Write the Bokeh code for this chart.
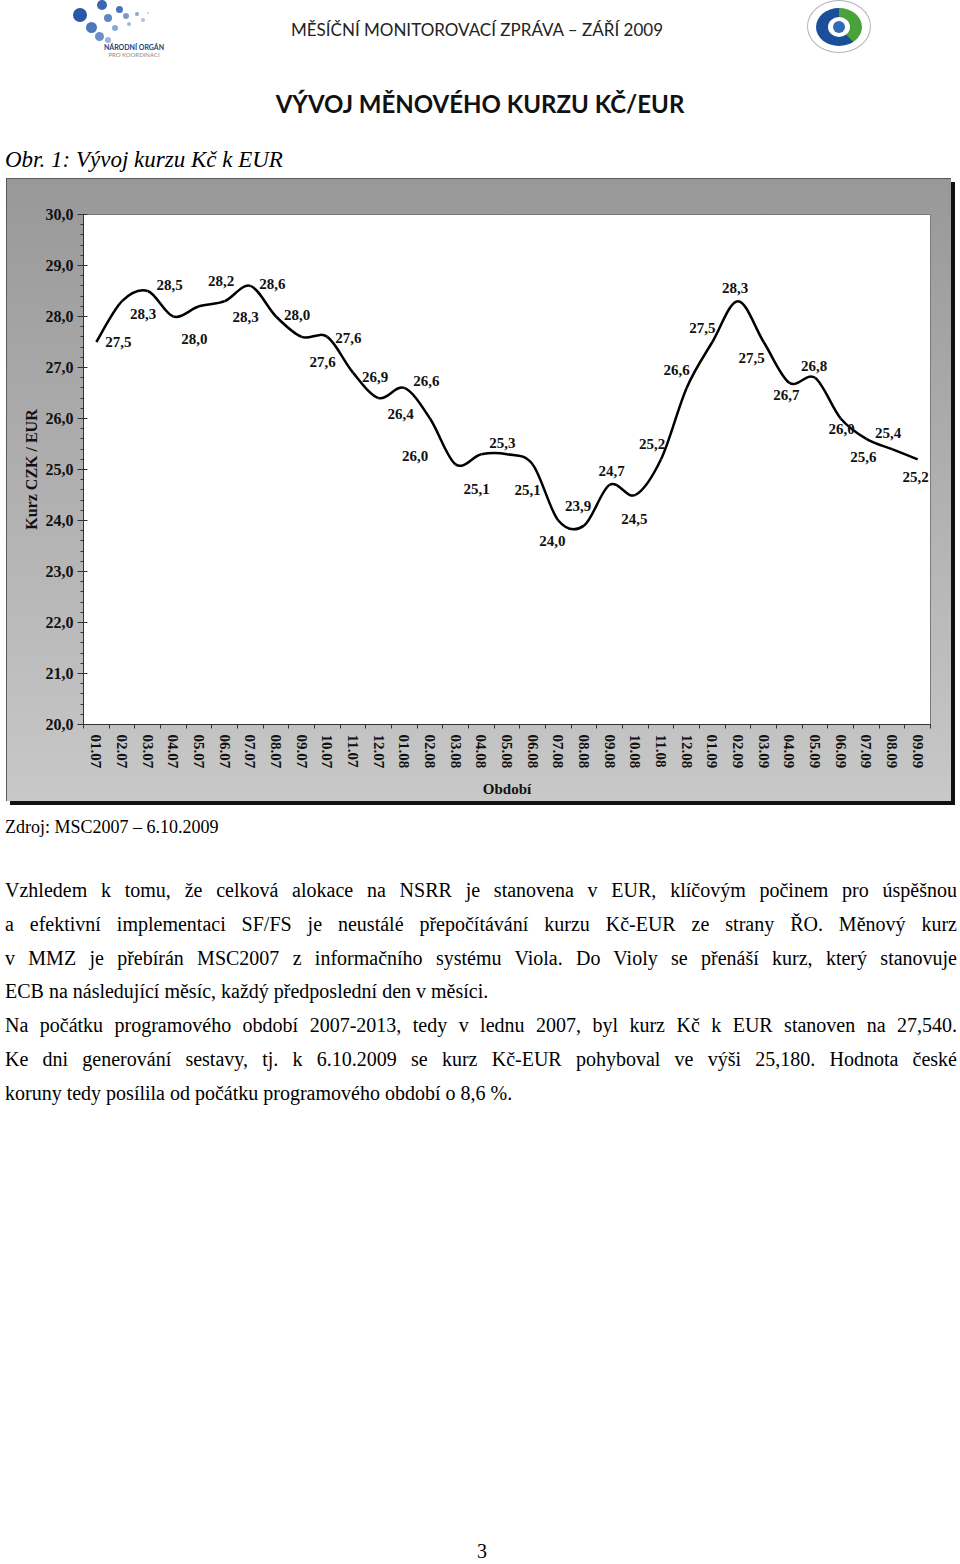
import numpy as np
from bokeh.plotting import figure
from bokeh.models import Range1d, FixedTicker, ColumnDataSource, Div
from bokeh.layouts import column
from bokeh.core.properties import value
from bokeh.embed import file_html
from bokeh.resources import INLINE

# ---------------- data ----------------
months = ["01.07", "02.07", "03.07", "04.07", "05.07", "06.07", "07.07", "08.07",
          "09.07", "10.07", "11.07", "12.07", "01.08", "02.08", "03.08", "04.08",
          "05.08", "06.08", "07.08", "08.08", "09.08", "10.08", "11.08", "12.08",
          "01.09", "02.09", "03.09", "04.09", "05.09", "06.09", "07.09", "08.09", "09.09"]
rates = [27.5, 28.3, 28.5, 28.0, 28.2, 28.3, 28.6, 28.0, 27.6, 27.6, 26.9, 26.4,
         26.6, 26.0, 25.1, 25.3, 25.3, 25.1, 24.0, 23.9, 24.7, 24.5, 25.2, 26.6,
         27.5, 28.3, 27.5, 26.7, 26.8, 26.0, 25.6, 25.4, 25.2]
y_ticks = [20, 21, 22, 23, 24, 25, 26, 27, 28, 29, 30]
y_tick_labels = ["20,0", "21,0", "22,0", "23,0", "24,0", "25,0", "26,0", "27,0",
                 "28,0", "29,0", "30,0"]

# label placement (screen px offsets from the point; style only)
label_dx = [22, 21, 22, 21, 22, 21, 22, 21, 21, 21, 22, 22, 22, -15, 21, 21, 0,
            -5, -6, -6, 2, -1, -9, -10, -10, -3, -12, -3, -1, 1, -3, -4, -2]
label_dy = [0, 13, -6, 22, -25, 16, -2, -2, 25, 1, 4, 16, -7, 37, 25, -11, 0,
            26, 20, -20, -14, 24, -15, -18, -14, -13, 16, 12, -12, 10, 18, -16, 18]
label_shown = [True] * 16 + [False] + [True] * 16

SERIF = "Liberation Serif"
PAD = 0  # inner offset of Div content

# ---------------- header (HTML) ----------------
def box(x, y, inner, extra=""):
    return (f"<div style=\"position:absolute;left:{x - PAD}px;top:{y - PAD}px;"
            f"white-space:nowrap;{extra}\">{inner}</div>")

hdr = ["<div style=\"position:relative;width:950px;height:178px;\">"]
dots = [(80, 15, 7.0, "#2a58a8"), (102, 5, 5.0, "#3b66b0"), (119, 9, 3.5, "#4a74b8"),
        (91, 27, 5.5, "#4c78bb"), (108, 18, 4.0, "#5f86c2"), (126, 16, 3.0, "#7a9ace"),
        (137, 14, 2.2, "#8aa6d4"), (99, 36, 4.5, "#6a8fc8"), (115, 28, 3.0, "#8aa8d6"),
        (129, 24, 2.2, "#a0b8de"), (143, 20, 1.8, "#b0c4e4"), (108, 40, 3.0, "#9ab4dc"),
        (148, 13, 1.3, "#b8c8e6")]
for (cx, cy, r, c) in dots:
    hdr.append(f"<div style=\"position:absolute;left:{cx - r - PAD}px;top:{cy - r - PAD}px;"
               f"width:{2 * r}px;height:{2 * r}px;border-radius:50%;background:{c};\"></div>")
hdr.append(box(134, 47, "NÁRODNÍ ORGÁN",
               "transform:translate(-50%,-50%);font-family:Lato;font-weight:bold;"
               "font-size:7px;color:#1e3f7a;"))
hdr.append(box(134, 55, "PRO KOORDINACI",
               "transform:translate(-50%,-50%);font-family:Lato;font-size:6px;color:#8a8a8a;"))
# right emblem
hdr.append(f"<div style=\"position:absolute;left:{807 - PAD}px;top:{0 - PAD}px;width:64px;height:53px;"
           "border-radius:50%;background:#ffffff;border:1px solid #b0b4ba;\"></div>")
hdr.append(f"<div style=\"position:absolute;left:{816 - PAD}px;top:{8 - PAD}px;width:46px;height:38px;"
           "border-radius:50%;background:conic-gradient(#4aa23c 0 38%, #1c4f9a 38% 100%);\"></div>")
hdr.append(f"<div style=\"position:absolute;left:{828 - PAD}px;top:{17 - PAD}px;width:22px;height:20px;"
           "border-radius:50%;background:#ffffff;\"></div>")
hdr.append(f"<div style=\"position:absolute;left:{833 - PAD}px;top:{21 - PAD}px;width:12px;height:12px;"
           "border-radius:50%;background:#2f6cb5;\"></div>")
hdr.append(box(477, 30, "MĚSÍČNÍ MONITOROVACÍ ZPRÁVA – ZÁŘÍ 2009",
               "transform:translate(-50%,-50%);font-family:Lato;font-size:17px;color:#222;"))
hdr.append(box(480, 104, "VÝVOJ MĚNOVÉHO KURZU KČ/EUR",
               "transform:translate(-50%,-50%);font-family:Lato;font-weight:bold;"
               "font-size:24px;color:#111;"))
hdr.append(box(5, 160, "Obr. 1: Vývoj kurzu Kč k EUR",
               f"transform:translate(0,-50%);font-family:'{SERIF}';font-style:italic;"
               "font-size:23px;color:#000;"))
hdr.append("</div>")
header = Div(text="".join(hdr), width=950, height=178, margin=0)

# ---------------- chart ----------------
n = len(rates)
idx = list(range(n))
p = figure(width=945, height=623, x_range=Range1d(-0.5, n - 0.5), y_range=Range1d(20, 30),
           output_backend="svg", toolbar_location=None, title=None,
           min_border_left=77, min_border_right=21, min_border_top=36, min_border_bottom=77,
           margin=(0, 0, 0, 6),
           styles={"background": "linear-gradient(to bottom, #989898, #c8c8c8)",
                   "box-shadow": "inset 1px 1px 0 #5a5a5a, 4px 4px 0 #111111"})
p.grid.visible = False
p.background_fill_color = "white"
p.border_fill_alpha = 0
p.outline_line_color = "#7a7a7a"
p.outline_line_width = 1

minor_y = [t + k * 0.2 for t in y_ticks[:-1] for k in range(1, 5)]
p.yaxis.ticker = FixedTicker(ticks=y_ticks, minor_ticks=minor_y)
p.yaxis.major_label_overrides = dict(zip(y_ticks, y_tick_labels))
p.yaxis.major_tick_out = 6
p.yaxis.major_tick_in = 4
p.yaxis.minor_tick_out = 3
p.yaxis.minor_tick_in = 0
p.yaxis.major_label_standoff = 4
p.yaxis.major_label_text_font = SERIF
p.yaxis.major_label_text_font_style = "bold"
p.yaxis.major_label_text_font_size = "16px"
p.yaxis.major_label_text_color = "#111111"
p.yaxis.axis_label = "Kurz CZK / EUR"
p.yaxis.axis_label_text_font = SERIF
p.yaxis.axis_label_text_font_style = "bold"
p.yaxis.axis_label_text_font_size = "16px"
p.yaxis.axis_label_text_color = "#111111"
p.yaxis.axis_label_standoff = 3
p.yaxis.axis_line_color = "#333333"
p.yaxis.major_tick_line_color = "#333333"
p.yaxis.minor_tick_line_color = "#333333"

p.xaxis.ticker = FixedTicker(ticks=idx, minor_ticks=[i - 0.5 for i in range(n + 1)])
p.xaxis.major_label_overrides = dict(zip(idx, months))
p.xaxis.major_tick_out = 0
p.xaxis.major_tick_in = 0
p.xaxis.minor_tick_out = 4
p.xaxis.minor_tick_in = 0
p.xaxis.major_label_orientation = "vertical"
p.xaxis.major_label_standoff = 6
p.xaxis.major_label_text_font = SERIF
p.xaxis.major_label_text_font_style = "bold"
p.xaxis.major_label_text_font_size = "15px"
p.xaxis.major_label_text_color = "#111111"
p.xaxis.axis_label = "Období"
p.xaxis.axis_label_text_font = SERIF
p.xaxis.axis_label_text_font_style = "bold"
p.xaxis.axis_label_text_font_size = "15px"
p.xaxis.axis_label_text_color = "#111111"
p.xaxis.axis_label_standoff = 10
p.xaxis.axis_line_color = "#333333"
p.xaxis.minor_tick_line_color = "#333333"

# smoothed line (Catmull-Rom as cubic Bezier segments through the data points)
xa = np.array(idx, dtype=float)
ya = np.array(rates, dtype=float)
xp = np.concatenate([[xa[0]], xa, [xa[-1]]])
yp = np.concatenate([[ya[0]], ya, [ya[-1]]])
seg = dict(x0=[], y0=[], x1=[], y1=[], cx0=[], cy0=[], cx1=[], cy1=[])
for i in range(n - 1):
    a, b, c, d = i, i + 1, i + 2, i + 3
    seg["x0"].append(xp[b]); seg["y0"].append(yp[b])
    seg["x1"].append(xp[c]); seg["y1"].append(yp[c])
    seg["cx0"].append(xp[b] + (xp[c] - xp[a]) / 6); seg["cy0"].append(yp[b] + (yp[c] - yp[a]) / 6)
    seg["cx1"].append(xp[c] - (xp[d] - xp[b]) / 6); seg["cy1"].append(yp[c] - (yp[d] - yp[b]) / 6)
p.bezier(x0="x0", y0="y0", x1="x1", y1="y1", cx0="cx0", cy0="cy0", cx1="cx1", cy1="cy1",
         source=ColumnDataSource(seg), line_color="black", line_width=2.5)

sel = [i for i in idx if label_shown[i]]
lab_src = ColumnDataSource(dict(
    x=[idx[i] for i in sel],
    y=[rates[i] for i in sel],
    t=[f"{rates[i]:.1f}".replace(".", ",") for i in sel],
    dx=[label_dx[i] for i in sel],
    dy=[label_dy[i] for i in sel],
))
p.text(x="x", y="y", text="t", x_offset="dx", y_offset="dy", source=lab_src,
       text_font=value(SERIF), text_font_style="bold", text_font_size="15px",
       text_color="#111111", text_align="center", text_baseline="middle")

# ---------------- text below ----------------
para = [
    ("Vzhledem k tomu, že celková alokace na NSRR je stanovena v EUR, klíčovým počinem pro úspěšnou", True),
    ("a efektivní implementaci SF/FS je neustálé přepočítávání kurzu Kč-EUR ze strany ŘO. Měnový kurz", True),
    ("v MMZ je přebírán MSC2007 z informačního systému Viola. Do Violy se přenáší kurz, který stanovuje", True),
    ("ECB na následující měsíc, každý předposlední den v měsíci.", False),
    ("Na počátku programového období 2007-2013, tedy v lednu 2007, byl kurz Kč k EUR stanoven na 27,540.", True),
    ("Ke dni generování sestavy, tj. k 6.10.2009 se kurz Kč-EUR pohyboval ve výši 25,180. Hodnota české", True),
    ("koruny tedy posílila od počátku programového období o 8,6 %.", False),
]
Y0 = 801  # page y of the text block
txt = ["<div style=\"position:relative;width:955px;height:760px;"
       f"font-family:'{SERIF}',serif;color:#000;\">"]
txt.append(f"<div style=\"position:absolute;left:5px;top:{827 - Y0 - PAD - 10}px;font-size:18px;"
           "line-height:20px;white-space:nowrap;\">Zdroj: MSC2007 – 6.10.2009</div>")
for k, (line, just) in enumerate(para):
    cy = 890 + k * 33.8
    top = cy - Y0 - PAD - 17
    al = "justify" if just else "left"
    txt.append(f"<div style=\"position:absolute;left:5px;top:{top:.1f}px;width:952px;"
               f"font-size:20px;line-height:34px;text-align:{al};text-align-last:{al};\">"
               f"{line}</div>")
txt.append(f"<div style=\"position:absolute;left:{482 - PAD - 6}px;top:{1551 - Y0 - PAD - 11}px;"
           "width:12px;text-align:center;font-size:20px;line-height:22px;\">3</div>")
txt.append("</div>")
body = Div(text="".join(txt), width=955, height=760, margin=0)

layout = column(header, p, body, spacing=0)
open("out.html", "w").write(file_html(layout, INLINE))
